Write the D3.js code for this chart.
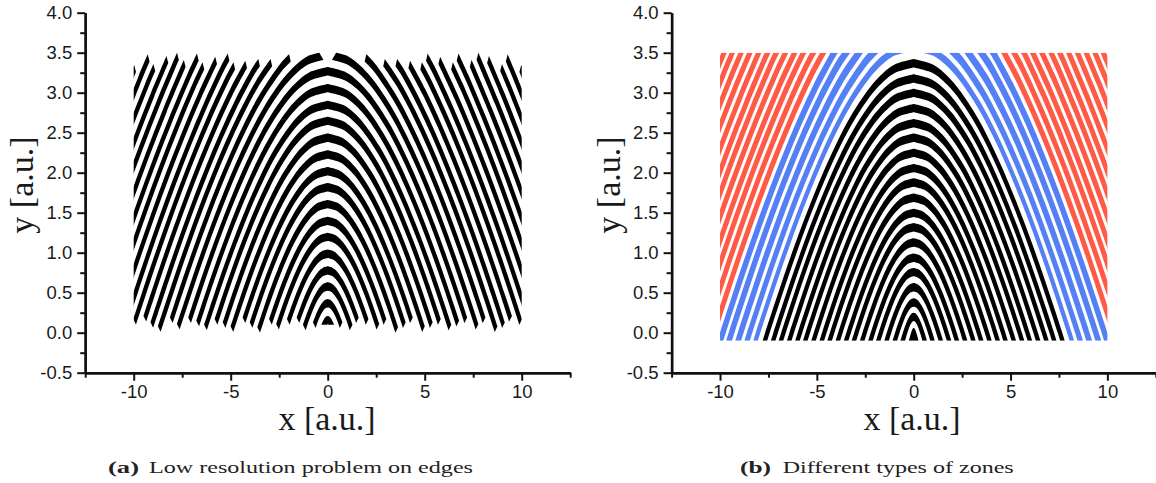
<!DOCTYPE html>
<html>
<head>
<meta charset="utf-8">
<script src="https://cdnjs.cloudflare.com/ajax/libs/d3/7.8.5/d3.min.js"></script>
<style>
html, body { margin: 0; padding: 0; background: #fff; }
svg { display: block; }
</style>
</head>
<body>
<div id="chart"></div>
<script>
// shape of one zone edge, as a fraction of its height at x = 0 (left/right mirrored)
const profileY = [1, 0.98, 0.95, 0.9, 0.8, 0.7, 0.6, 0.5, 0.4, 0.3, 0.2, 0.1, 0, -0.1, -0.25, -0.5, -1, -2, -4, -7];
const profileX = [0, 0.288, 0.457, 0.65, 0.929, 1.15, 1.341, 1.514, 1.675, 1.826, 1.97, 2.108, 2.243, 2.372, 2.562, 2.865, 3.44, 4.518, 6.55, 9.48];

// panel (a): upper edge of each zone at x = 0, zone thickness, where its ends stop
const lowResApex = [0.21, 0.42, 0.63, 0.83, 1.04, 1.25, 1.45, 1.66, 1.87, 2.07, 2.28, 2.49, 2.70, 2.90, 3.11, 3.32, 3.53, 3.74, 3.95, 4.15, 4.36, 4.57, 4.77, 4.98, 5.19, 5.39, 5.60, 5.81, 6.01, 6.22, 6.43, 6.63, 6.84];
const lowResBottom = [0.10, 0.06, 0.03, 0.12, 0.10, 0.04, 0.10, 0.00, 0.06, 0.12, 0.01, 0.06, 0.10, 0.03, 0.08, 0.12, 0.04, 0.12, 0.01, 0.06, 0.14, 0.10, 0.10, 0.10, 0.10, 0.10, 0.10, 0.10, 0.10, 0.10, 0.10, 0.10, 0.10];
const lowResTop = [3.6, 3.6, 3.6, 3.6, 3.6, 3.6, 3.6, 3.6, 3.6, 3.6, 3.6, 3.6, 3.6, 3.6, 3.6, 3.6, 3.50, 3.48, 3.42, 3.42, 3.40, 3.38, 3.49, 3.45, 3.38, 3.49, 3.41, 3.50, 3.46, 3.36, 3.48, 3.35, 3.30];
const lowResThickness = 0.105;

// panel (b): upper edge of each zone at x = 0, per zone type
const blackApex = [0.06, 0.25, 0.43, 0.62, 0.81, 0.99, 1.18, 1.37, 1.55, 1.74, 1.93, 2.11, 2.30, 2.49, 2.67, 2.86, 3.05, 3.23, 3.42];
const blueApex = [3.636, 3.84, 4.05, 4.26, 4.46];
const redApex = [4.66, 4.85, 5.04, 5.22, 5.41, 5.60, 5.78, 5.97, 6.16, 6.35, 6.54, 6.72, 6.91, 7.10];
const blackThickness = 0.105;
const blueThickness = [0.105, 0.125, 0.135, 0.135, 0.135];
const redThickness = 0.12;
const zoneColor = { black: "#000000", blue: "#5580f5", red: "#ff5a44" };

const xMajor = [-10, -5, 0, 5, 10];
const xMinor = [-12.5, -7.5, -2.5, 2.5, 7.5, 12.5];
const yMajor = [-0.5, 0, 0.5, 1, 1.5, 2, 2.5, 3, 3.5, 4];
const yMinor = [-0.25, 0.25, 0.75, 1.25, 1.75, 2.25, 2.75, 3.25, 3.75];

const W = 1156, H = 483;
const svg = d3.select("#chart").append("svg").attr("width", W).attr("height", H);

const defs = svg.append("defs");
const soften = defs.append("filter").attr("id", "soften");
soften.append("feGaussianBlur").attr("stdDeviation", 0.45);

const shape = d3.scaleLinear().domain(profileY).range(profileX).clamp(true);

// left side of a zone edge, going upward from y0 to y1
function edgeLeft(a, y0, y1) {
	if (a <= 0) return [[0, y0]];
	const top = Math.min(y1, a);
	const inside = profileY.map((g, i) => [-a * profileX[i], a * g])
		.filter(p => p[1] > y0 && p[1] < top)
		.reverse();
	return [[-a * shape(y0 / a), y0], ...inside, [-a * shape(top / a), top]];
}

const mirror = pts => pts.map(p => [-p[0], p[1]]).reverse();

function drawPanel(cfg) {
	const x = d3.scaleLinear().domain([-12.5, 12.5]).range([cfg.x0, cfg.x1]);
	const y = d3.scaleLinear().domain([-0.5, 4]).range([372.7, 12.7]);
	const g = svg.append("g");

	const line = d3.line().x(d => x(d[0])).y(d => y(d[1])).curve(d3.curveCatmullRom);
	const polygon = (upper, lower) => line(upper) + "L" + line(lower).slice(1) + "Z";

	const clipId = cfg.id + "-clip";
	defs.append("clipPath").attr("id", clipId).append("rect")
		.attr("x", x(-10)).attr("width", x(10) - x(-10))
		.attr("y", y(cfg.clipTop)).attr("height", y(cfg.clipBottom) - y(cfg.clipTop));

	const marks = g.append("g").attr("clip-path", `url(#${clipId})`).attr("filter", "url(#soften)");

	cfg.zones.forEach(z => {
		const upperLeft = edgeLeft(z.apex, z.bottomUpper, z.topUpper);
		const lowerLeft = edgeLeft(z.apex - z.thick, z.bottomLower, z.topLower);
		let paths;
		if (z.topUpper >= z.apex) {
			// whole arc, one shape over the top
			paths = [polygon(upperLeft.concat(mirror(upperLeft)), lowerLeft.concat(mirror(lowerLeft)).reverse())];
		} else {
			paths = [
				polygon(upperLeft, lowerLeft.slice().reverse()),
				polygon(mirror(upperLeft), mirror(lowerLeft).reverse())
			];
		}
		paths.forEach(p => marks.append("path").attr("d", p).attr("fill", z.color));
	});

	// axes
	const yAt = y(-0.5), xAt = x(-12.5);
	const axisStyle = sel => {
		sel.selectAll(".domain").attr("stroke", "#111").attr("stroke-width", 2.4);
		sel.selectAll(".tick line").attr("stroke", "#111").attr("stroke-width", 2);
		sel.selectAll("text").attr("fill", "#1a1a1a").attr("font-family", "'Liberation Sans', Arial, sans-serif").attr("font-size", "18.5px");
	};
	g.append("g").attr("transform", `translate(0,${yAt})`)
		.call(d3.axisBottom(x).tickValues(xMinor).tickSize(5).tickSizeOuter(0).tickFormat(""))
		.call(axisStyle);
	g.append("g").attr("transform", `translate(0,${yAt})`)
		.call(d3.axisBottom(x).tickValues(xMajor).tickSize(8).tickSizeOuter(0).tickPadding(4).tickFormat(d => String(d)))
		.call(axisStyle);
	g.append("g").attr("transform", `translate(${xAt},0)`)
		.call(d3.axisLeft(y).tickValues(yMinor).tickSize(5).tickSizeOuter(0).tickFormat(""))
		.call(axisStyle);
	g.append("g").attr("transform", `translate(${xAt},0)`)
		.call(d3.axisLeft(y).tickValues(yMajor).tickSize(8).tickSizeOuter(0).tickPadding(5).tickFormat(d => d.toFixed(1)))
		.call(axisStyle);

	// axis titles
	g.append("text").attr("x", cfg.xTitleX).attr("y", 430)
		.attr("text-anchor", "middle")
		.attr("font-family", "'Liberation Serif', serif").attr("font-size", "34px").attr("fill", "#1a1a1a")
		.text("x [a.u.]");
	g.append("text").attr("transform", `translate(${cfg.yTitleX},185) rotate(-90)`)
		.attr("text-anchor", "middle")
		.attr("font-family", "'Liberation Serif', serif").attr("font-size", "34px").attr("fill", "#1a1a1a")
		.text("y [a.u.]");

	// caption
	const cap = g.append("g").attr("font-family", "'Liberation Serif', serif").attr("font-size", "17px").attr("fill", "#222");
	cap.append("text").attr("x", cfg.capX).attr("y", 473).attr("font-weight", "bold")
		.attr("textLength", 31).attr("lengthAdjust", "spacingAndGlyphs").text(cfg.capTag);
	cap.append("text").attr("x", cfg.capTextX).attr("y", 473)
		.attr("textLength", cfg.capTextW).attr("lengthAdjust", "spacingAndGlyphs").text(cfg.capText);
}

const lowResZones = lowResApex.map((apex, i) => {
	const top = lowResTop[i], bottom = lowResBottom[i];
	return {
		apex, color: zoneColor.black, thick: lowResThickness,
		topUpper: top, topLower: top - 0.09,
		bottomUpper: i === 0 ? bottom : bottom + 0.07, bottomLower: bottom
	};
});

const typedZone = (apex, type, thick) => ({
	apex, color: zoneColor[type], thick,
	topUpper: 3.5, topLower: 3.5, bottomUpper: -0.1, bottomLower: -0.1
});
const typedZones = [
	...blackApex.map(a => typedZone(a, "black", blackThickness)),
	...blueApex.map((a, i) => typedZone(a, "blue", blueThickness[i])),
	...redApex.map(a => typedZone(a, "red", redThickness))
];

drawPanel({
	id: "a", x0: 85.2, x1: 570.2, zones: lowResZones, clipTop: 3.7, clipBottom: -0.2,
	xTitleX: 327, yTitleX: 33,
	capX: 108, capTag: "(a)", capTextX: 149, capTextW: 324, capText: "Low resolution problem on edges"
});
drawPanel({
	id: "b", x0: 671.6, x1: 1155.8, zones: typedZones, clipTop: 3.5, clipBottom: -0.1,
	xTitleX: 912, yTitleX: 619.6,
	capX: 740, capTag: "(b)", capTextX: 782.7, capTextW: 231, capText: "Different types of zones"
});
</script>
</body>
</html>
